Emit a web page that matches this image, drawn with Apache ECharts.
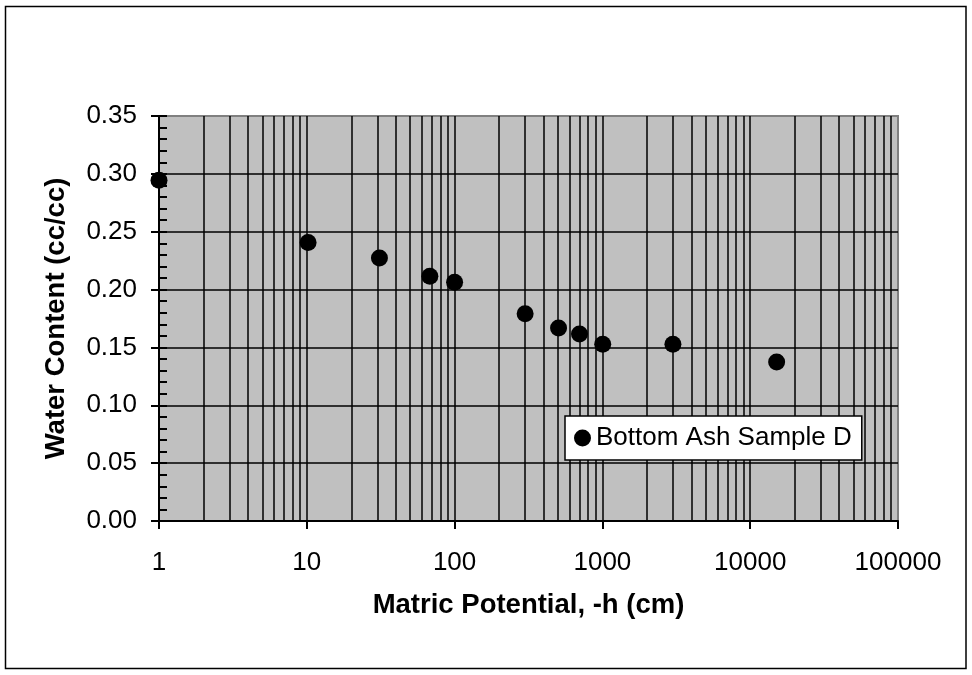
<!DOCTYPE html>
<html>
<head>
<meta charset="utf-8">
<script src="https://cdn.jsdelivr.net/npm/echarts@6/dist/echarts.min.js"></script>
<style>
html,body{margin:0;padding:0;background:#fff;}
#chart{width:972px;height:675px;}
</style>
</head>
<body>
<div id="chart"></div>
<script>
// ---- data ----
var seriesName = 'Bottom Ash Sample D';
var matricPotential = [1, 10.2, 31, 68, 100, 300, 505, 700, 1005, 3000, 15100];
var waterContent = [0.2945, 0.2407, 0.2273, 0.2115, 0.2063, 0.1792, 0.1668, 0.1616, 0.1527, 0.1527, 0.1374];
var xMin = 1, xMax = 100000;
var yMin = 0, yMax = 0.35, yStep = 0.05;
var decades = [1, 10, 100, 1000, 10000];
var minorMultipliers = [2, 3, 4, 5, 6, 7, 8, 9];
var hGridValues = [0.05, 0.10, 0.15, 0.20, 0.25, 0.30];

var FONT = "'Liberation Sans', Arial, sans-serif";

// gridline positions (in data units)
var gridLines = [];
decades.forEach(function (d, i) {
  if (i > 0) gridLines.push({ xAxis: d });
  minorMultipliers.forEach(function (m) { gridLines.push({ xAxis: d * m }); });
});
hGridValues.forEach(function (v) { gridLines.push({ yAxis: v }); });

var points = matricPotential.map(function (x, i) { return [x, waterContent[i]]; });

var chart = echarts.init(document.getElementById('chart'), null, { renderer: 'canvas' });
chart.setOption({
  animation: false,
  backgroundColor: '#ffffff',
  textStyle: { fontFamily: FONT },
  graphic: [{
    type: 'rect',
    shape: { x: 5.5, y: 6.5, width: 960.5, height: 662 },
    style: { fill: 'none', stroke: '#000', lineWidth: 1.5 },
    silent: true, z: 100
  }],
  grid: {
    left: 159, right: 74, top: 116, bottom: 154,
    show: true, backgroundColor: '#c0c0c0', borderColor: '#808080', borderWidth: 2
  },
  legend: {
    data: [seriesName],
    left: 565, top: 416, z: 20,
    orient: 'horizontal',
    backgroundColor: '#ffffff',
    borderColor: '#000', borderWidth: 1.5, borderRadius: 0,
    padding: [9, 10, 9, 9],
    icon: 'circle', itemWidth: 17, itemHeight: 17,
    textStyle: { fontSize: 26, color: '#000', fontFamily: FONT },
    selectedMode: false
  },
  xAxis: {
    type: 'log', logBase: 10, min: xMin, max: xMax,
    name: 'Matric Potential, -h (cm)', nameLocation: 'middle', nameGap: 70,
    nameTextStyle: { fontSize: 27.5, fontWeight: 'bold', color: '#000', fontFamily: FONT },
    axisLine: { show: true, onZero: false, lineStyle: { color: '#000', width: 2 } },
    axisTick: { show: true, inside: false, length: 8, lineStyle: { color: '#000', width: 2 } },
    axisLabel: { fontSize: 26, color: '#000', margin: 29, fontFamily: FONT,
      formatter: function (v) { return String(Math.round(v)); } },
    splitLine: { show: false }
  },
  yAxis: [{
    type: 'value', min: yMin, max: yMax, interval: yStep, position: 'left',
    name: 'Water Content (cc/cc)', nameLocation: 'middle', nameGap: 89, nameRotate: 90,
    nameTextStyle: { fontSize: 27.5, fontWeight: 'bold', color: '#000', fontFamily: FONT },
    axisLine: { show: true, lineStyle: { color: '#000', width: 2 } },
    axisTick: { show: true, inside: false, length: 8, lineStyle: { color: '#000', width: 2 } },
    axisLabel: { fontSize: 26, color: '#000', margin: 22, fontFamily: FONT,
      formatter: function (v) { return v.toFixed(2); } },
    splitLine: { show: false }
  }, {
    type: 'value', min: yMin, max: yMax, interval: yStep, position: 'left', offset: 0,
    axisLine: { show: false },
    axisTick: { show: true, inside: true, length: 8, lineStyle: { color: '#000', width: 2 } },
    minorTick: { show: true, splitNumber: 5, length: 8, lineStyle: { color: '#000', width: 2 } },
    axisLabel: { show: false },
    splitLine: { show: false }
  }],
  series: [{
    type: 'scatter', name: 'gridlines', data: [], z: 1, silent: true,
    markLine: {
      silent: true, symbol: ['none', 'none'], animation: false, z: 1,
      label: { show: false },
      lineStyle: { color: '#000', width: 1.5, type: 'solid' },
      emphasis: { disabled: true },
      data: gridLines
    }
  }, {
    type: 'scatter', name: seriesName, data: points, z: 5,
    symbol: 'circle', symbolSize: 17, clip: false,
    itemStyle: { color: '#000', opacity: 1 }
  }]
});
</script>
</body>
</html>
